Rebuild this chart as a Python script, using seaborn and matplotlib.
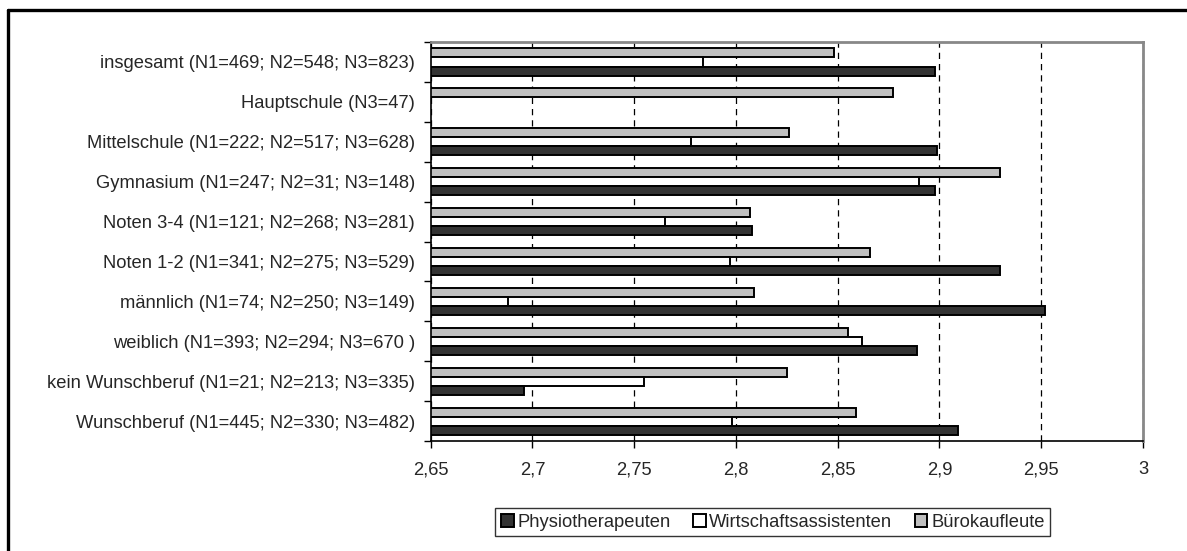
import matplotlib
matplotlib.use("Agg")
import matplotlib.pyplot as plt
import seaborn as sns
import pandas as pd
import numpy as np
from matplotlib.lines import Line2D
from matplotlib.ticker import FixedLocator, FuncFormatter

# ---- data ----
categories = [
    "insgesamt (N1=469; N2=548; N3=823)",
    "Hauptschule (N3=47)",
    "Mittelschule (N1=222; N2=517; N3=628)",
    "Gymnasium (N1=247; N2=31; N3=148)",
    "Noten 3-4 (N1=121; N2=268; N3=281)",
    "Noten 1-2 (N1=341; N2=275; N3=529)",
    "männlich (N1=74; N2=250; N3=149)",
    "weiblich (N1=393; N2=294; N3=670 )",
    "kein Wunschberuf (N1=21; N2=213; N3=335)",
    "Wunschberuf (N1=445; N2=330; N3=482)",
]
physiotherapeuten = [2.898, np.nan, 2.899, 2.898, 2.808, 2.930, 2.952, 2.889, 2.696, 2.909]
wirtschaftsassistenten = [2.784, np.nan, 2.778, 2.890, 2.765, 2.797, 2.688, 2.862, 2.755, 2.798]
buerokaufleute = [2.848, 2.877, 2.826, 2.930, 2.807, 2.866, 2.809, 2.855, 2.825, 2.859]
series_names = ["Physiotherapeuten", "Wirtschaftsassistenten", "Bürokaufleute"]
series_colors = ["#333333", "#FFFFFF", "#C0C0C0"]
xticks = [2.65, 2.70, 2.75, 2.80, 2.85, 2.90, 2.95, 3.00]

df = pd.DataFrame({
    "Kategorie": categories * 3,
    "Wert": physiotherapeuten + wirtschaftsassistenten + buerokaufleute,
    "Gruppe": [series_names[0]] * len(categories)
              + [series_names[1]] * len(categories)
              + [series_names[2]] * len(categories),
})

sns.set_style("white")
plt.rcParams["font.family"] = ["Liberation Sans", "DejaVu Sans"]
FS = 13.25
plt.rcParams["font.size"] = FS

fig = plt.figure(figsize=(11.87, 5.51), dpi=100)
ax = fig.add_axes([0.3628, 0.1996, 0.6001, 0.7241])

palette = dict(zip(series_names, series_colors))
sns.barplot(data=df, y="Kategorie", x="Wert", hue="Gruppe",
            order=categories, hue_order=series_names[::-1],
            palette=palette, orient="h", width=0.68, dodge=True,
            edgecolor="black", linewidth=1.4, ax=ax, errorbar=None,
            saturation=1)

ax.set_xlim(xticks[0], xticks[-1])
ax.set_ylim(len(categories) - 0.5, -0.5)
ax.xaxis.set_major_locator(FixedLocator(xticks))
ax.xaxis.set_major_formatter(FuncFormatter(lambda v, p: f"{v:g}".replace(".", ",")))
ax.set_xlabel("")
ax.set_ylabel("")

ax.set_axisbelow(True)
ax.xaxis.grid(True, linestyle=(0, (5, 4)), color="black", linewidth=0.9)
ax.yaxis.grid(False)

# ticks
ax.tick_params(axis="x", which="major", direction="out", length=5, width=1,
               color="black", pad=9.5, labelsize=FS, bottom=True)
ax.tick_params(axis="y", which="major", length=0, pad=11.3, labelsize=FS, left=True)
ax.yaxis.set_minor_locator(FixedLocator(np.arange(-0.5, len(categories), 1.0)))
ax.tick_params(axis="y", which="minor", direction="out", length=5, width=1,
               color="black", left=True)

for side in ["left", "bottom"]:
    ax.spines[side].set_color("black")
    ax.spines[side].set_linewidth(1.2)
for side in ["top", "right"]:
    ax.spines[side].set_color("#888888")
    ax.spines[side].set_linewidth(2.0)
    ax.spines[side].set_visible(True)

# legend in original series order
handles, labels = ax.get_legend_handles_labels()
ax.get_legend().remove()
hmap = dict(zip(labels, handles))
leg = fig.legend([hmap[n] for n in series_names], series_names,
                 loc="center", bbox_to_anchor=(0.651, 0.052), ncol=3,
                 frameon=True, fancybox=False, edgecolor="black",
                 handlelength=0.7, handleheight=0.7, handletextpad=0.2,
                 columnspacing=1.2, borderpad=0.3, fontsize=FS)
leg.get_frame().set_linewidth(1.0)

# outer frame (top and left visible)
fig.add_artist(Line2D([8 / 1187, 1.0], [1 - 10 / 551, 1 - 10 / 551],
                      transform=fig.transFigure, color="black", linewidth=2.4))
fig.add_artist(Line2D([8 / 1187, 8 / 1187], [0.0, 1 - 10 / 551],
                      transform=fig.transFigure, color="black", linewidth=2.4))

fig.savefig("out.png", dpi=100, facecolor="white")
